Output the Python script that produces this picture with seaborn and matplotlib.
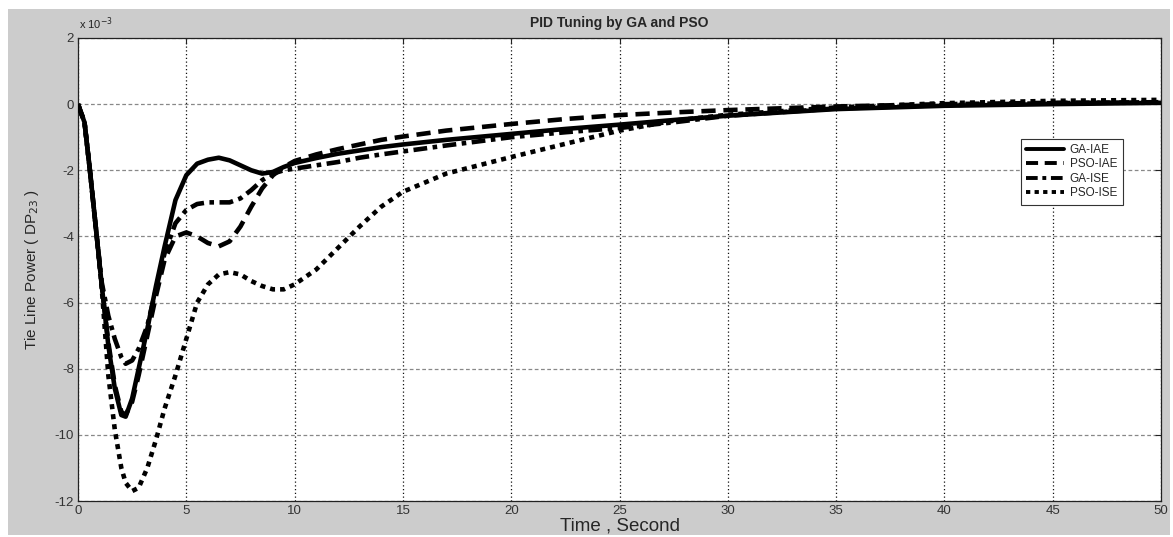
import matplotlib
matplotlib.use("Agg")
import matplotlib.pyplot as plt
from matplotlib.patches import Rectangle
from matplotlib.lines import Line2D
import seaborn as sns
import pandas as pd

# ---- data (values in units of 1e-3) ----
time_s = [0, 0.3, 0.55, 0.85, 1.1, 1.4, 1.7, 2.0, 2.2, 2.5, 2.8, 3.2, 3.6, 4.0, 4.5,
          5.0, 5.5, 6.0, 6.5, 7.0, 7.5, 8.0, 8.5, 9.0, 9.5, 10, 11, 12, 13, 14, 15,
          17, 20, 22.5, 25, 27.5, 30, 35, 40, 45, 50]

ga_iae = [0, -0.55, -2.0, -3.9, -5.5, -7.3, -8.6, -9.4, -9.45, -8.9, -8.0, -6.8, -5.5,
          -4.3, -2.9, -2.15, -1.8, -1.68, -1.62, -1.7, -1.85, -2.0, -2.1, -2.05, -1.9,
          -1.78, -1.63, -1.5, -1.4, -1.3, -1.22, -1.08, -0.9, -0.75, -0.62, -0.48,
          -0.35, -0.15, -0.05, 0.0, 0.04]

pso_iae = [0, -0.55, -2.0, -3.9, -5.5, -7.2, -8.5, -9.3, -9.4, -9.0, -8.2, -7.0, -5.8,
           -4.7, -4.0, -3.88, -4.0, -4.2, -4.3, -4.15, -3.7, -3.1, -2.55, -2.15, -1.9,
           -1.72, -1.52, -1.36, -1.22, -1.08, -0.98, -0.8, -0.6, -0.45, -0.33, -0.25,
           -0.18, -0.07, 0.0, 0.04, 0.05]

ga_ise = [0, -0.55, -2.0, -3.9, -5.4, -6.4, -7.1, -7.65, -7.85, -7.75, -7.4, -6.7, -5.6,
          -4.5, -3.6, -3.2, -3.02, -2.97, -2.97, -2.97, -2.85, -2.6, -2.3, -2.1, -2.0,
          -1.95, -1.85, -1.75, -1.62, -1.52, -1.43, -1.25, -1.0, -0.85, -0.72, -0.55,
          -0.35, -0.13, -0.03, 0.03, 0.06]

pso_ise = [0, -0.55, -2.0, -3.9, -5.6, -8.2, -9.85, -11.0, -11.45, -11.7, -11.6, -11.0,
           -10.15, -9.2, -8.2, -7.1, -6.0, -5.45, -5.15, -5.08, -5.15, -5.35, -5.5, -5.6,
           -5.6, -5.45, -5.0, -4.35, -3.7, -3.1, -2.65, -2.1, -1.6, -1.2, -0.8, -0.5,
           -0.32, -0.1, 0.03, 0.1, 0.13]

series_names = ["GA-IAE", "PSO-IAE", "GA-ISE", "PSO-ISE"]
x_ticks = [0, 5, 10, 15, 20, 25, 30, 35, 40, 45, 50]
y_ticks = [2, 0, -2, -4, -6, -8, -10, -12]

# ---- build frame ----
rows = []
for name, vals in zip(series_names, [ga_iae, pso_iae, ga_ise, pso_ise]):
    for t, v in zip(time_s, vals):
        rows.append({"t": t, "v": v, "series": name})
df = pd.DataFrame(rows)

sns.set_style("white")
plt.rcParams["font.family"] = ["Liberation Sans", "DejaVu Sans"]

W, H = 1173, 537
fig = plt.figure(figsize=(W / 100, H / 100), dpi=100, facecolor="white")
fig.patches.append(Rectangle((8 / W, 2 / H), (1170 - 8) / W, (535 - 9) / H,
                             transform=fig.transFigure, facecolor="#cccccc",
                             edgecolor="none", zorder=-10))

ax = fig.add_axes([78 / W, (H - 501) / H, (1161 - 78) / W, (501 - 38) / H])
ax.set_facecolor("white")

dash_map = {
    "GA-IAE": "",
    "PSO-IAE": (3.1, 1.7),
    "GA-ISE": (3.0, 1.2, 1.0, 1.2),
    "PSO-ISE": (1.1, 1.1),
}
lw = 3.3
sns.lineplot(data=df, x="t", y="v", style="series", style_order=series_names,
             dashes=dash_map, color="black", linewidth=lw, sort=False,
             estimator=None, legend=False, ax=ax, zorder=3)
for ln in ax.get_lines():
    ln.set_dash_capstyle("butt")
    ln.set_solid_capstyle("butt")

ax.set_xlim(0, 50)
ax.set_ylim(-12, 2)
ax.set_xticks(x_ticks)
ax.set_yticks(y_ticks)
ax.set_xticklabels([str(t) for t in x_ticks], fontsize=9.5, color="#333333")
ax.set_yticklabels([str(t) for t in y_ticks], fontsize=9.5, color="#333333")
ax.tick_params(direction="in", length=4, width=0.8, top=True, right=True,
               colors="#222222", labelcolor="#333333", pad=3)

ax.grid(True, axis="y", color="#888888", linestyle=(0, (3, 2)), linewidth=0.9)
ax.grid(True, axis="x", color="#111111", linestyle=(0, (1, 2)), linewidth=0.9)
ax.set_axisbelow(True)
for s in ax.spines.values():
    s.set_color("#222222")
    s.set_linewidth(0.9)

ax.set_title("PID Tuning by GA and PSO", fontsize=10, fontweight="bold", pad=8)
ax.set_xlabel("Time , Second", fontsize=13.5, labelpad=0)
ax.set_ylabel("Tie Line Power ( DP$_{23}$ )", fontsize=11, labelpad=10)
ax.text(0.001, 1.012, r"x 10$^{-3}$", transform=ax.transAxes, fontsize=8,
        ha="left", va="bottom", color="#222222")

handles = [Line2D([0], [0], color="black", linewidth=lw * 0.85,
                  dashes=dash_map[n], dash_capstyle="butt", label=n)
           for n in series_names[1:]]
handles.insert(0, Line2D([0], [0], color="black", linewidth=lw * 0.85, label="GA-IAE"))
leg = ax.legend(handles=handles, loc="upper left", bbox_to_anchor=(0.865, 0.795),
                fontsize=8.5, handlelength=3.2, handletextpad=0.5,
                labelspacing=0.2, borderpad=0.45, frameon=True, fancybox=False,
                framealpha=1, edgecolor="#333333")
leg.get_frame().set_linewidth(0.8)

fig.savefig("out.png", dpi=100, facecolor="white")
